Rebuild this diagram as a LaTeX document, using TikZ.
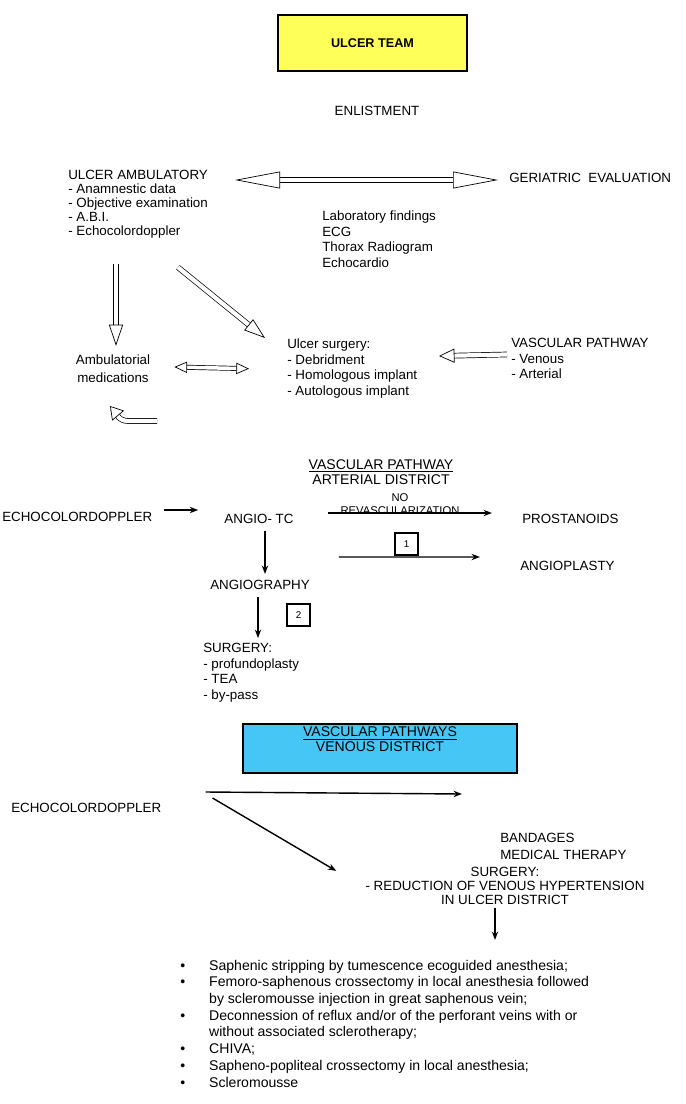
\documentclass[tikz,border=0pt]{standalone}
\usepackage{fontspec}
\setmainfont{Liberation Sans}
\usepackage{tikz}
\usetikzlibrary{arrows.meta}
\usetikzlibrary{calc,positioning}

\definecolor{teamyellow}{HTML}{FFFF5A}
\definecolor{venblue}{HTML}{45C6F5}

\begin{document}
\begin{tikzpicture}[x=0.025cm, y=-0.025cm, >={Stealth[length=6pt,width=4.5pt]},
    every node/.style={inner sep=0pt, font=\fontsize{9.5}{11}\selectfont},
    list/.style={align=left, anchor=north west},
    teambox/.style={draw, line width=1pt, fill=teamyellow, minimum width=4.725cm, minimum height=1.4cm, font=\fontsize{9}{11}\selectfont\bfseries},
    venbox/.style={draw, line width=1pt, fill=venblue, minimum width=6.85cm, minimum height=1.225cm, align=center, text depth=12.8pt, font=\fontsize{10}{10.7}\selectfont},
    numbox/.style={draw, line width=.8pt, minimum width=0.575cm, minimum height=0.55cm, font=\fontsize{7}{8}\selectfont},
    hollow/.style={double, double distance=3pt, line width=.5pt, -{Triangle[fill=white, length=#1, width=10pt]}},
    hollow/.default=15pt,
    thin/.style={->, line width=1pt}]

    \useasboundingbox (0,0) rectangle (685,1104);

    \node[teambox] (team) at (372.5,43) {ULCER TEAM};
    \node (enl) at (377,111) {ENLISTMENT};

    \node[list, font=\fontsize{9.5}{9.9}\selectfont] (amb) at (68,170) {ULCER AMBULATORY\\- Anamnestic data\\- Objective examination\\- A.B.I.\\- Echocolordoppler};
    \node[anchor=west] (ger) at (509,178) {GERIATRIC\ \ EVALUATION};
    \node[list] (lab) at (322,211) {Laboratory findings\\ECG\\Thorax Radiogram\\Echocardio};
    \node[align=center, font=\fontsize{9.5}{12.8}\selectfont] (ambmed) at (113,369) {Ambulatorial\\medications};
    \node[list] (ulc) at (287,339) {Ulcer surgery:\\- Debridment\\- Homologous implant\\- Autologous implant};
    \node[list, font=\fontsize{9.5}{11}\selectfont] (vas) at (511,338) {VASCULAR PATHWAY\\- Venous\\- Arterial};

    \draw[double, double distance=3pt, line width=.5pt, {Triangle[fill=white, length=32pt, width=12pt]}-{Triangle[fill=white, length=32pt, width=12pt]}] ([shift={(167,10)}]amb.north west) -- ([shift={(-11,2)}]ger.west);
    \draw[hollow] ([shift={(48,26)}]amb.south west) -- ([shift={(3,-9)}]ambmed.north);
    \draw[hollow] ([shift={(110,29)}]amb.south west) -- ([shift={(-22,-1)}]ulc.north west);
    \draw[double, double distance=2.5pt, line width=.5pt, {Triangle[fill=white, length=9pt, width=8pt]}-{Triangle[fill=white, length=9pt, width=8pt]}] ([shift={(24,-2)}]ambmed.east) -- ([shift={(-38,0)}]ulc.west);
    \draw[hollow=11pt] ([shift={(-4,-4)}]vas.west) -- ([shift={(152,17)}]ulc.north west);

    \coordinate (uturn) at (157,421);
    \draw[double, double distance=3pt, line width=.5pt, -{Triangle[fill=white, length=9pt, width=11pt]}] (uturn) -- (128,421) to[out=180, in=-50] (110,406);

    \node[align=center, font=\fontsize{10}{10.2}\selectfont] (art) at (381,472) {\underline{VASCULAR PATHWAY}\\ARTERIAL DISTRICT};
    \node[anchor=west] (echa) at (2,517) {ECHOCOLORDOPPLER};
    \node (atc) at (259,519) {ANGIO- TC};
    \node[anchor=west] (pros) at (522,519) {PROSTANOIDS};
    \node[anchor=west] (apl) at (520,566) {ANGIOPLASTY};
    \node (agr) at (260,585) {ANGIOGRAPHY};
    \node[list] (surg) at (203,643) {SURGERY:\\- profundoplasty\\- TEA\\- by-pass};
    \node[align=center, font=\fontsize{8}{9}\selectfont] (norev) at (400,504) {NO\\REVASCULARIZATION};
    \node[numbox] (n1) at (406.5,544) {1};
    \node[numbox] (n2) at (298.5,615) {2};

    \draw[thin] ([shift={(11,-7)}]echa.east) -- ([shift={(-26,-9)}]atc.west);
    \draw[thin] ([shift={(34,-6)}]atc.east) -- ([shift={(-30,-6)}]pros.west);
    \draw[thin] ([shift={(45,33)}]atc.south east) -- ([shift={(-40,-9)}]apl.west);
    \draw[thin] ([shift={(6,7)}]atc.south) -- ([shift={(5,-6)}]agr.north);
    \draw[thin] ([shift={(-2,7)}]agr.south) -- ([shift={(55,-5)}]surg.north west);

    \node[venbox] (ven) at (380,748.5) {\underline{VASCULAR PATHWAYS}\\VENOUS DISTRICT};
    \node[anchor=west] (echb) at (11,808) {ECHOCOLORDOPPLER};
    \node[list, font=\fontsize{9.5}{12}\selectfont] (band) at (500,833) {BANDAGES\\MEDICAL THERAPY};
    \node[align=center, font=\fontsize{9.5}{10}\selectfont] (vsurg) at (505,886) {SURGERY:\\- REDUCTION OF VENOUS HYPERTENSION\\IN ULCER DISTRICT};
    \node[anchor=north west, font=\fontsize{10}{11.9}\selectfont] (trt) at (180,958) {\begin{tabular}{@{}l@{\hspace{0.6cm}}l@{}}
        \textbullet & Saphenic stripping by tumescence ecoguided anesthesia;\\
        \textbullet & Femoro-saphenous crossectomy in local anesthesia followed\\
        & by scleromousse injection in great saphenous vein;\\
        \textbullet & Deconnession of reflux and/or of the perforant veins with or\\
        & without associated sclerotherapy;\\
        \textbullet & CHIVA;\\
        \textbullet & Sapheno-popliteal crossectomy in local anesthesia;\\
        \textbullet & Scleromousse
    \end{tabular}};

    \draw[thin] ([shift={(44,-16)}]echb.east) -- ([shift={(-38,-39)}]band.north west);
    \draw[thin] ([shift={(51,-10)}]echb.east) -- ([shift={(-29,4)}]vsurg.north west);
    \draw[thin] ([shift={(-10,3)}]vsurg.south) -- ([shift={(315,-18)}]trt.north west);

\end{tikzpicture}
\end{document}
